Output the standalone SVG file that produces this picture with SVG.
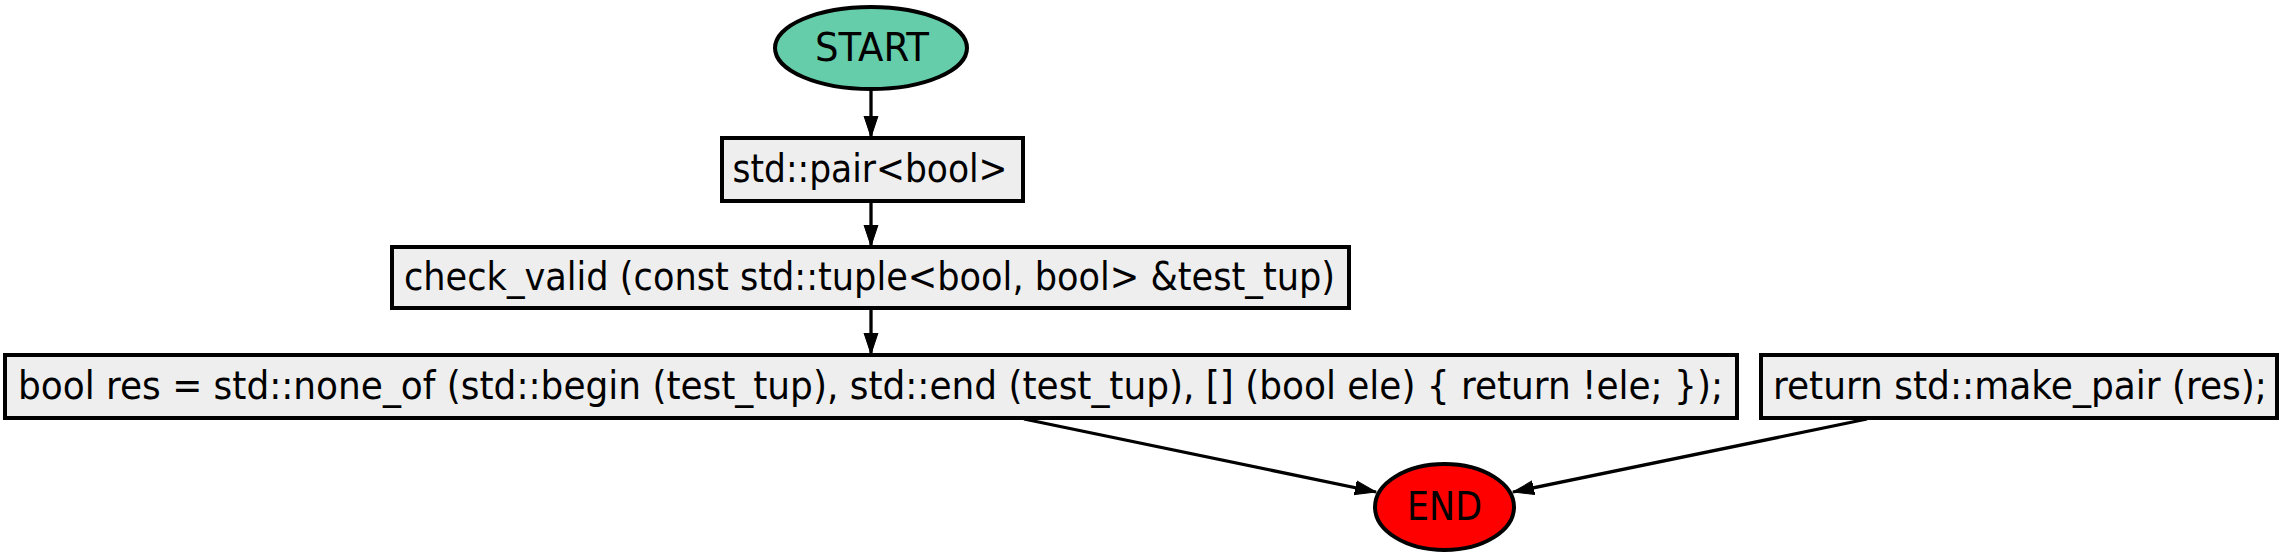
<svg xmlns="http://www.w3.org/2000/svg" width="2283" height="556" viewBox="0 0 2283 556">
<defs>
<style>
.box{fill:#eeeeee;stroke:#000;stroke-width:4}
.t{font-family:"DejaVu Sans Condensed","DejaVu Sans",sans-serif;font-stretch:condensed;font-size:39px;fill:#000;text-anchor:middle}
.e{fill:none;stroke:#000;stroke-width:3.3}
</style>
<marker id="ah" markerUnits="userSpaceOnUse" markerWidth="24" markerHeight="18" refX="21" refY="8" orient="auto" viewBox="0 0 24 18">
<polygon points="0,1 21,8 0,15" fill="#000" stroke="#000" stroke-width="1"/>
</marker>
</defs>
<rect width="2283" height="556" fill="#fff"/>
<g id="connectors">
<line class="e" x1="871" y1="89" x2="871" y2="137" marker-end="url(#ah)"/>
<line class="e" x1="871" y1="202" x2="871" y2="246" marker-end="url(#ah)"/>
<line class="e" x1="871" y1="308" x2="871" y2="354" marker-end="url(#ah)"/>
<line class="e" x1="1024" y1="419" x2="1376" y2="492" marker-end="url(#ah)"/>
<line class="e" x1="1867" y1="419" x2="1513" y2="492" marker-end="url(#ah)"/>
</g>
<g id="start">
<ellipse cx="871" cy="48" rx="96" ry="41" fill="#66cdaa" stroke="#000" stroke-width="4"/>
<text class="t" x="872" y="61" textLength="114" lengthAdjust="spacingAndGlyphs">START</text>
</g>
<g id="pair">
<rect class="box" x="722" y="138" width="301" height="63"/>
<text class="t" x="870" y="182" textLength="275" lengthAdjust="spacingAndGlyphs">std::pair&lt;bool&gt;</text>
</g>
<g id="check_valid">
<rect class="box" x="392" y="247" width="957" height="61"/>
<text class="t" x="869.5" y="290" textLength="931" lengthAdjust="spacingAndGlyphs">check_valid (const std::tuple&lt;bool, bool&gt; &amp;test_tup)</text>
</g>
<g id="bool_res">
<rect class="box" x="5" y="355" width="1732" height="63"/>
<text class="t" x="870.5" y="399" textLength="1705" lengthAdjust="spacingAndGlyphs">bool res = std::none_of (std::begin (test_tup), std::end (test_tup), [] (bool ele) { return !ele; });</text>
</g>
<g id="return">
<rect class="box" x="1761" y="355" width="516" height="63"/>
<text class="t" x="2020" y="399" textLength="494" lengthAdjust="spacingAndGlyphs">return std::make_pair (res);</text>
</g>
<g id="end">
<ellipse cx="1444.5" cy="507" rx="69.5" ry="43" fill="#ff0000" stroke="#000" stroke-width="4"/>
<text class="t" x="1444.5" y="520" textLength="75" lengthAdjust="spacingAndGlyphs">END</text>
</g>
</svg>
